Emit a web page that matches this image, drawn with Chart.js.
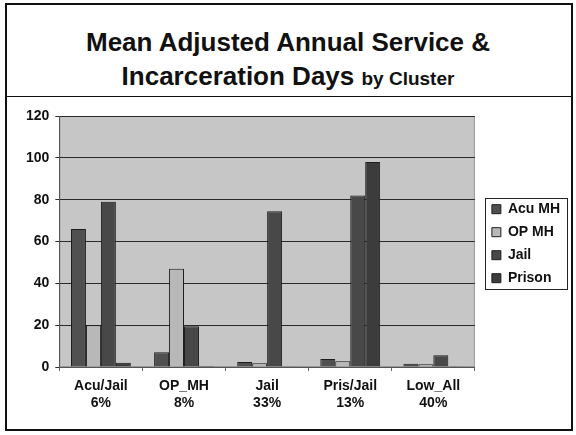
<!DOCTYPE html>
<html>
<head>
<meta charset="utf-8">
<script src="https://cdn.jsdelivr.net/npm/chart.js@4.4.0/dist/chart.umd.min.js"></script>
<style>
  body { margin: 0; background: #fff; }
  #wrap { position: relative; width: 576px; height: 435px; overflow: hidden; }
  #frame { position: absolute; left: 5px; top: 3px; width: 564px; height: 424px; border: 2px solid #111; }
  #divider { position: absolute; left: 5px; top: 96px; width: 568px; height: 0; border-top: 1px solid #111; }
  .ttl { position: absolute; left: 0; width: 576px; text-align: center; font-family: "Liberation Sans", Arial, sans-serif;
         font-weight: bold; font-size: 26px; line-height: 34px; color: #111; }
  .ttl small { font-size: 19px; }
  canvas { position: absolute; left: 0; top: 0; }
</style>
</head>
<body>
<div id="wrap">
  <div id="frame"></div>
  <div id="divider"></div>
  <div class="ttl" style="top:25px">Mean Adjusted Annual Service &amp;</div>
  <div class="ttl" style="top:59px">Incarceration Days <small>by Cluster</small></div>
  <canvas id="chart" width="576" height="435"></canvas>
</div>
<script>
// clusters (with share of sample)
const clusters = [['Acu/Jail', '6%'], ['OP_MH', '8%'], ['Jail', '33%'], ['Pris/Jail', '13%'], ['Low_All', '40%']];
const seriesNames = ['Acu MH', 'OP MH', 'Jail', 'Prison'];
// mean days per cluster
const acuMH  = [66, 7, 2.4, 3.8, 1.6];
const opMH   = [20, 47, 1.8, 2.7, 1.3];
const jail   = [79, 19.5, 74.5, 82, 5.6];
const prison = [2, 0.5, 0.3, 98, 0.3];
const yTicks = [0, 20, 40, 60, 80, 100, 120];

const fills = ['#505050', '#b8b8b8', '#484848', '#3c3c3c'];

// grey plot background
const plotBg = {
    id: 'plotBg',
    beforeDraw(chart) {
        const a = chart.chartArea, ctx = chart.ctx;
        ctx.save();
        ctx.fillStyle = '#c6c6c6';
        ctx.fillRect(a.left, a.top, a.right - a.left, a.bottom - a.top);
        ctx.strokeStyle = '#999';
        ctx.lineWidth = 1;
        ctx.strokeRect(a.left + 0.5, a.top + 0.5, a.right - a.left - 1, a.bottom - a.top - 1);
        ctx.restore();
    }
};

// box around the legend items
const legendBox = {
    id: 'legendBox',
    afterDraw(chart) {
        const boxes = chart.legend.legendHitBoxes;
        if (!boxes || !boxes.length) return;
        let x0 = Infinity, y0 = Infinity, x1 = -Infinity, y1 = -Infinity;
        boxes.forEach(function (b) {
            x0 = Math.min(x0, b.left); y0 = Math.min(y0, b.top);
            x1 = Math.max(x1, b.left + b.width); y1 = Math.max(y1, b.top + b.height);
        });
        const ctx = chart.ctx;
        ctx.save();
        ctx.strokeStyle = '#222';
        ctx.lineWidth = 1;
        ctx.strokeRect(Math.round(x0 - 7) + 0.5, Math.round(y0 - 4) + 0.5, Math.round(x1 - x0 + 14), Math.round(y1 - y0 + 8));
        ctx.restore();
    }
};

const data = [acuMH, opMH, jail, prison];
const fontFam = '"Liberation Sans", Arial, sans-serif';

new Chart(document.getElementById('chart'), {
    type: 'bar',
    data: {
        labels: clusters,
        datasets: seriesNames.map(function (name, i) {
            return {
                label: name,
                data: data[i],
                backgroundColor: fills[i],
                borderColor: '#1e1e1e',
                borderWidth: 1,
                barPercentage: 1.0,
                categoryPercentage: 0.72
            };
        })
    },
    options: {
        responsive: false,
        animation: false,
        layout: { padding: { left: 20, right: 6, top: 116, bottom: 17 } },
        plugins: {
            title: { display: false },
            tooltip: { enabled: false },
            legend: {
                position: 'right',
                align: 'start',
                title: { display: true, text: ' ', font: { size: 1 }, padding: { top: 76, bottom: 0 } },
                labels: {
                    boxWidth: 9,
                    boxHeight: 9,
                    padding: 9,
                    color: '#111',
                    font: { family: fontFam, size: 14, weight: 'bold' }
                }
            }
        },
        scales: {
            x: {
                grid: { display: true, drawOnChartArea: false, drawTicks: true, tickLength: 4, color: '#666', offset: true },
                border: { color: '#555' },
                ticks: {
                    color: '#111',
                    padding: 6,
                    maxRotation: 0,
                    font: { family: fontFam, size: 14, weight: 'bold', lineHeight: 1.25 }
                }
            },
            y: {
                min: 0,
                max: 120,
                afterBuildTicks(axis) { axis.ticks = yTicks.map(function (v) { return { value: v }; }); },
                grid: { color: '#2a2a2a', lineWidth: 1, tickLength: 4 },
                border: { color: '#555' },
                ticks: {
                    color: '#111',
                    padding: 6,
                    font: { family: fontFam, size: 14, weight: 'bold' }
                }
            },
            // empty axis: gap between plot and legend
            gap: {
                position: 'right',
                display: true,
                grid: { display: false },
                border: { display: false },
                ticks: { display: false },
                afterFit(axis) { axis.width = 8; }
            }
        }
    },
    plugins: [plotBg, legendBox]
});
</script>
</body>
</html>
